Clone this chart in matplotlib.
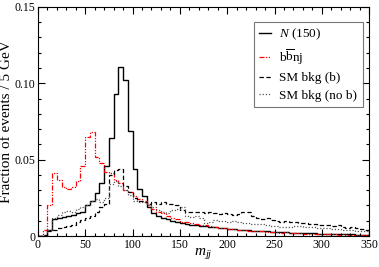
import numpy as np
import matplotlib
matplotlib.use("Agg")
import matplotlib.pyplot as plt
from matplotlib.ticker import MultipleLocator, FixedFormatter, FixedLocator

plt.rcParams['font.family'] = ['Liberation Serif', 'DejaVu Serif']
plt.rcParams['mathtext.fontset'] = 'custom'
plt.rcParams['mathtext.rm'] = 'Liberation Serif'
plt.rcParams['mathtext.it'] = 'Liberation Serif:italic'

# 5 GeV bins from 0 to 350
bin_edges = np.arange(0, 355, 5)

heavy_n = [
    0, 0, 0.004, 0.011, 0.012, 0.0125, 0.013, 0.014, 0.015, 0.016,
    0.020, 0.023, 0.028, 0.035, 0.046, 0.064, 0.093, 0.111, 0.102, 0.069,
    0.044, 0.031, 0.026, 0.019, 0.015, 0.013, 0.012, 0.011, 0.010, 0.009,
    0.0085, 0.008, 0.0075, 0.007, 0.0068, 0.0064, 0.006, 0.0056, 0.0052, 0.005,
    0.0047, 0.0044, 0.0042, 0.004, 0.0037, 0.0035, 0.0033, 0.0031, 0.003, 0.0028,
    0.0026, 0.0025, 0.0024, 0.0022, 0.0021, 0.002, 0.0019, 0.0018, 0.0017, 0.0016,
    0.0015, 0.0014, 0.0014, 0.0013, 0.0012, 0.0012, 0.0011, 0.0010, 0.0010, 0.0009,
]

bbnj = [
    0, 0.004, 0.020, 0.041, 0.037, 0.032, 0.031, 0.032, 0.036, 0.046,
    0.065, 0.068, 0.052, 0.048, 0.042, 0.041, 0.037, 0.035, 0.030, 0.029,
    0.026, 0.024, 0.023, 0.020, 0.018, 0.016, 0.015, 0.013, 0.012, 0.011,
    0.0095, 0.009, 0.0085, 0.008, 0.0075, 0.007, 0.0066, 0.006, 0.0055, 0.005,
    0.0046, 0.0043, 0.004, 0.0041, 0.0036, 0.0033, 0.0034, 0.003, 0.0027, 0.0029,
    0.0025, 0.0022, 0.0024, 0.002, 0.0018, 0.0019, 0.0016, 0.0015, 0.0016, 0.0013,
    0.0012, 0.0013, 0.0011, 0.001, 0.0011, 0.0009, 0.0008, 0.0009, 0.0007, 0.0007,
]

sm_b = [
    0, 0.001, 0.003, 0.004, 0.005, 0.006, 0.0065, 0.0075, 0.009, 0.0105,
    0.012, 0.013, 0.016, 0.019, 0.021, 0.040, 0.043, 0.044, 0.033, 0.029,
    0.025, 0.023, 0.022, 0.021, 0.022, 0.021, 0.022, 0.021, 0.021, 0.020,
    0.017, 0.016, 0.016, 0.0155, 0.016, 0.015, 0.0155, 0.015, 0.0145, 0.015,
    0.0145, 0.014, 0.0145, 0.0155, 0.0155, 0.013, 0.012, 0.011, 0.0115, 0.0105,
    0.010, 0.0095, 0.0098, 0.009, 0.0092, 0.0085, 0.0088, 0.008, 0.0082, 0.0072,
    0.0075, 0.007, 0.0068, 0.0072, 0.006, 0.0055, 0.0058, 0.005, 0.0045, 0.004,
]

sm_nob = [
    0, 0, 0.004, 0.012, 0.014, 0.016, 0.0165, 0.016, 0.018, 0.019,
    0.020, 0.023, 0.024, 0.022, 0.025, 0.034, 0.036, 0.033, 0.030, 0.027,
    0.023, 0.022, 0.022, 0.020, 0.019, 0.017, 0.016, 0.015, 0.017, 0.018,
    0.019, 0.013, 0.0125, 0.013, 0.012, 0.0085, 0.0095, 0.0105, 0.010, 0.0098,
    0.0095, 0.0098, 0.0092, 0.0088, 0.0085, 0.0082, 0.008, 0.0078, 0.0072, 0.0068,
    0.0065, 0.0062, 0.006, 0.0062, 0.0065, 0.0068, 0.0062, 0.006, 0.0056, 0.0055,
    0.0052, 0.005, 0.0046, 0.0045, 0.0042, 0.004, 0.0038, 0.0036, 0.0035, 0.0032,
]

fig = plt.figure(figsize=(3.79, 2.67), dpi=100)
ax = fig.add_axes([0.100, 0.116, 0.874, 0.858])

ax.stairs(heavy_n, bin_edges, color='black', lw=1.0, label=r'$N$ (150)')
ax.stairs(bbnj, bin_edges, color='red', lw=0.9, linestyle=(0, (4, 1.2, 1, 1.2, 1, 1.2)),
          label=r'b$\overline{\mathrm{b}}$nj')
ax.stairs(sm_b, bin_edges, color='black', lw=0.9, linestyle=(0, (3.5, 2)), label='SM bkg (b)')
ax.stairs(sm_nob, bin_edges, color='#555555', lw=0.9, linestyle=(0, (1, 1.5)), label='SM bkg (no b)')

ax.set_xlim(0, 350)
ax.set_ylim(0, 0.15)
ax.xaxis.set_major_locator(MultipleLocator(50))
ax.xaxis.set_minor_locator(MultipleLocator(10))
ax.yaxis.set_major_locator(FixedLocator([0, 0.05, 0.10, 0.15]))
ax.yaxis.set_major_formatter(FixedFormatter(['0', '0.05', '0.10', '0.15']))
ax.yaxis.set_minor_locator(MultipleLocator(0.01))
ax.tick_params(which='both', direction='in', top=True, right=True, labelsize=8.5, width=0.8)
ax.tick_params(which='major', length=5, pad=2)
ax.tick_params(which='minor', length=2.5)
for s in ax.spines.values():
    s.set_linewidth(0.8)

ax.set_xlabel(r'$m_{jj}$', fontsize=11)
ax.xaxis.set_label_coords(0.5, -0.045)
ax.set_ylabel('Fraction of events / 5 GeV', fontsize=11)
ax.yaxis.set_label_coords(-0.074, 0.5)

leg = ax.legend(loc='upper right', bbox_to_anchor=(0.98, 0.936), fontsize=9.5, frameon=True,
                fancybox=False, edgecolor='#555555', handlelength=0.9, handletextpad=0.6,
                borderpad=0.4, labelspacing=0.4, borderaxespad=0)
leg.get_frame().set_linewidth(0.8)

fig.savefig('out.png', dpi=100)
